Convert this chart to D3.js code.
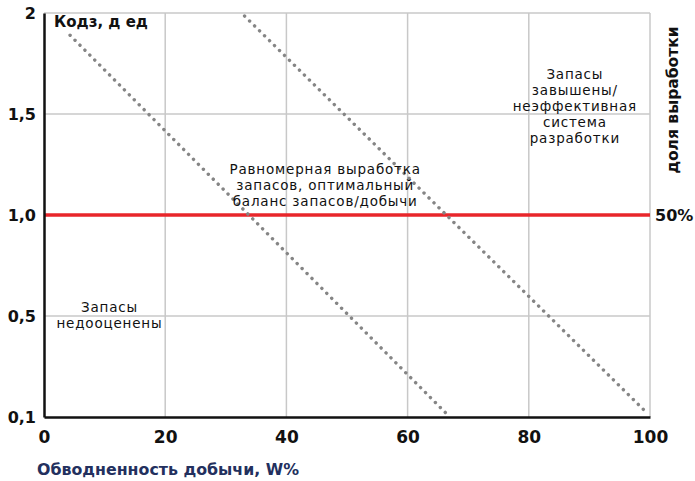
<!DOCTYPE html>
<html>
<head>
<meta charset="utf-8">
<script src="https://cdn.jsdelivr.net/npm/d3@7"></script>
<style>
  body { margin: 0; background: #fff; }
  svg { display: block; font-family: "DejaVu Sans", sans-serif; }
</style>
</head>
<body>
<figure id="chart" style="margin:0"></figure>
<script>
// axis ticks
const xTicks = [0, 20, 40, 60, 80, 100];
const yTicks = [0, 0.5, 1, 1.5, 2];
const yTickLabels = ["0,1", "0,5", "1,0", "1,5", "2"];
const gridY = [0.5, 1.5, 2];
const gridX = [20, 40, 60, 80, 100];

// boundary lines (dotted)
const lineLow = [{ x: 4.3, y: 1.89 }, { x: 66.3, y: 0.02 }];
const lineHigh = [{ x: 33.1, y: 1.985 }, { x: 99.5, y: 0.02 }];
const optimum = 1.0;

// zone captions
const zoneLow = ["Запасы", "недооценены"];
const zoneMid = ["Равномерная выработка", "запасов, оптимальный", "баланс запасов/добычи"];
const zoneHigh = ["Запасы", "завышены/", "неэффективная", "система", "разработки"];

const width = 695, height = 481;
const margin = { left: 44, right: 45, top: 13, bottom: 64 };

const x = d3.scaleLinear().domain([0, 100]).range([margin.left, width - margin.right]);
const y = d3.scaleLinear().domain([0, 2]).range([height - margin.bottom, margin.top]);

const svg = d3.select("figure#chart")
  .append("svg")
  .attr("width", width)
  .attr("height", height);

// grid
svg.append("g")
  .selectAll("line")
  .data(gridY)
  .enter()
  .append("line")
  .attr("x1", x(0)).attr("x2", x(100))
  .attr("y1", d => y(d)).attr("y2", d => y(d))
  .attr("stroke", "#c8c8c8")
  .attr("stroke-width", 1.5);

svg.append("g")
  .selectAll("line")
  .data(gridX)
  .enter()
  .append("line")
  .attr("x1", d => x(d)).attr("x2", d => x(d))
  .attr("y1", y(0)).attr("y2", y(2))
  .attr("stroke", "#c8c8c8")
  .attr("stroke-width", 1.5);

// red 50% line
svg.append("line")
  .attr("x1", x(0)).attr("x2", x(100))
  .attr("y1", y(optimum)).attr("y2", y(optimum))
  .attr("stroke", "#e8262b")
  .attr("stroke-width", 3.5);

// dotted boundaries
const line = d3.line().x(d => x(d.x)).y(d => y(d.y));
[lineLow, lineHigh].forEach(pts => {
  svg.append("path")
    .attr("d", line(pts))
    .attr("fill", "none")
    .attr("stroke", "#858585")
    .attr("stroke-width", 3.4)
    .attr("stroke-linecap", "round")
    .attr("stroke-dasharray", "0.1 6.9");
});

// axes
const xAxis = svg.append("g")
  .attr("transform", "translate(0," + y(0) + ")")
  .call(d3.axisBottom(x).tickValues(xTicks).tickSize(0).tickPadding(14).tickFormat(d3.format("d")));
xAxis.select(".domain").attr("stroke", "#111").attr("stroke-width", 2.5);
xAxis.selectAll("text")
  .attr("font-size", 17).attr("font-weight", "bold").attr("fill", "#111")
  .attr("font-family", "DejaVu Sans, sans-serif");

const yAxis = svg.append("g")
  .attr("transform", "translate(" + x(0) + ",0)")
  .call(d3.axisLeft(y).tickValues(yTicks).tickSize(0).tickPadding(8).tickFormat((d, i) => yTickLabels[i]));
yAxis.select(".domain").attr("stroke", "#111").attr("stroke-width", 2.5);
yAxis.selectAll("text")
  .attr("font-size", 16).attr("font-weight", "bold").attr("fill", "#111")
  .attr("font-family", "DejaVu Sans, sans-serif");

// titles
svg.append("text")
  .attr("x", 54).attr("y", 27)
  .attr("font-size", 15).attr("font-weight", "bold").attr("fill", "#111")
  .text("Кодз, д ед");

svg.append("text")
  .attr("x", 37).attr("y", 475)
  .attr("font-size", 15.8).attr("font-weight", "bold").attr("fill", "#23305e")
  .text("Обводненность добычи, W%");

svg.append("text")
  .attr("transform", "translate(678,100) rotate(-90)")
  .attr("text-anchor", "middle")
  .attr("font-size", 15.5).attr("font-weight", "bold").attr("fill", "#111")
  .text("доля выработки");

svg.append("text")
  .attr("x", 655).attr("y", y(optimum) + 6)
  .attr("font-size", 16).attr("font-weight", "bold").attr("fill", "#111")
  .text("50%");

// zone captions
function caption(lines, cx, cy) {
  const fs = 13.5, lh = 16;
  const t = svg.append("text")
    .attr("text-anchor", "middle")
    .attr("font-size", fs)
    .attr("letter-spacing", 0.8)
    .attr("fill", "#111");
  t.selectAll("tspan")
    .data(lines)
    .enter()
    .append("tspan")
    .attr("x", x(cx))
    .attr("y", (d, i) => y(cy) + i * lh)
    .text(d => d);
}
caption(zoneLow, 10.8, 0.52);
caption(zoneMid, 46.4, 1.203);
caption(zoneHigh, 87.6, 1.673);
</script>
</body>
</html>
